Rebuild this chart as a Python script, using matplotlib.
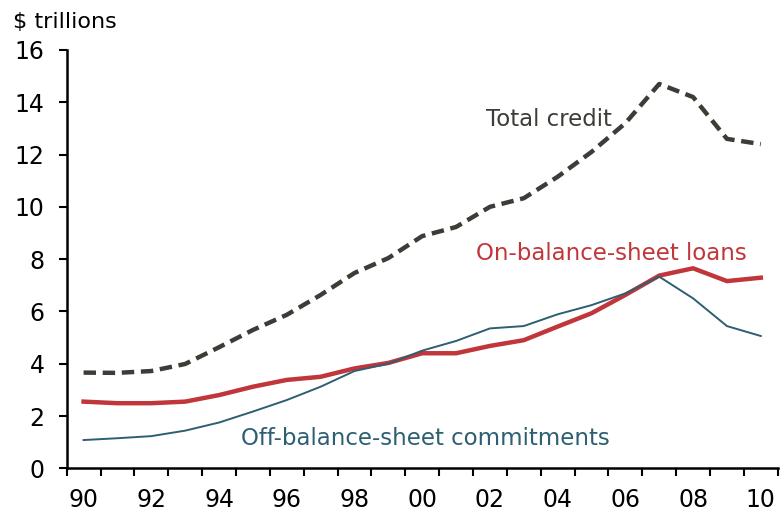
import matplotlib.pyplot as plt
import numpy as np

years = list(range(1990, 2011))
year_labels = ['90', '92', '94', '96', '98', '00', '02', '04', '06', '08', '10']

total_credit = [3.66, 3.65, 3.72, 3.99, 4.63, 5.29, 5.87, 6.63, 7.47, 8.04, 8.88,
                9.23, 10.0, 10.33, 11.15, 12.1, 13.2, 14.7, 14.2, 12.6, 12.4]
on_balance = [2.55, 2.49, 2.49, 2.55, 2.80, 3.12, 3.38, 3.50, 3.82, 4.03, 4.40,
              4.40, 4.68, 4.90, 5.42, 5.93, 6.63, 7.37, 7.65, 7.16, 7.29]
off_balance = [1.08, 1.15, 1.23, 1.44, 1.75, 2.17, 2.61, 3.12, 3.72, 4.00, 4.50,
               4.87, 5.35, 5.44, 5.89, 6.24, 6.69, 7.33, 6.50, 5.44, 5.06]

c_total = '#3d3d38'
c_on = '#c0363a'
c_off = '#2d5f72'

plt.rcParams['font.family'] = ['DejaVu Sans']

fig = plt.figure(figsize=(7.84, 5.19), dpi=100)
ax = fig.add_axes([0.085, 0.0977, 0.907, 0.806])

x = np.arange(len(years))
ax.plot(x, total_credit, color=c_total, lw=3.2, ls=(0, (2.8, 1.5)))
ax.plot(x, on_balance, color=c_on, lw=3.2)
ax.plot(x, off_balance, color=c_off, lw=1.4)

ax.set_xlim(-0.5, len(years) - 0.5)
ax.set_ylim(0, 16)

ax.set_yticks(range(0, 17, 2))
ax.tick_params(axis='y', direction='out', length=6, width=1.5, pad=10, labelsize=17)

ax.set_xticks(x[::2])
ax.set_xticklabels(year_labels)
ax.set_xticks(np.arange(-0.5, len(years), 1), minor=True)
ax.tick_params(axis='x', which='major', length=0, pad=14, labelsize=17)
ax.tick_params(axis='x', which='minor', direction='out', length=6, width=1.5)

for s in ['top', 'right']:
    ax.spines[s].set_visible(False)
for s in ['left', 'bottom']:
    ax.spines[s].set_linewidth(1.8)

ax.text(13.75, 13.35, 'Total credit', color=c_total, fontsize=16.5, ha='center', va='center')
ax.text(15.6, 8.2, 'On-balance-sheet loans', color=c_on, fontsize=16.5,
        ha='center', va='center')
ax.text(10.1, 1.15, 'Off-balance-sheet commitments', color=c_off, fontsize=16.5,
        ha='center', va='center')

fig.text(0.016, 0.957, '$ trillions', fontsize=16, ha='left', va='center')

fig.savefig('out.png', dpi=100)
